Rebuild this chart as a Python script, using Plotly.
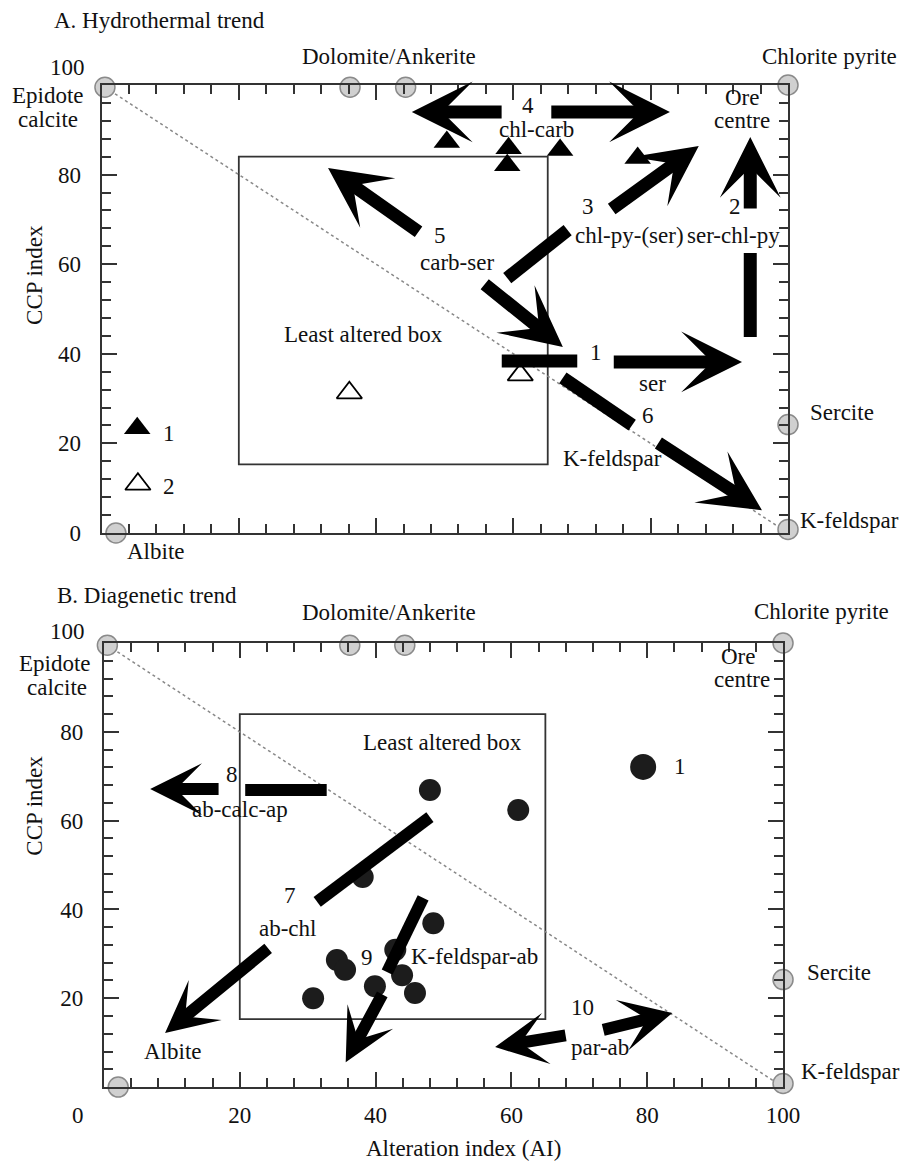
import plotly.graph_objects as go

FONT = "Liberation Serif"
FS = 23

# ---------------- common end-members ----------------
em_x = [0.5, 36.2, 44.3, 100.0, 100.0, 100.0, 2.1]
em_y = [99.5, 99.5, 99.5, 100.0, 24.2, 0.8, 0.0]
trend_x = [0.5, 100.0]
trend_y = [99.5, 0.0]
box_x = [20, 65]
box_y = [15.3, 84]

# ---------------- panel A (hydrothermal) ----------------
a_filled_x = [50.3, 59.3, 59.1, 66.8, 78.1]
a_filled_y = [87.3, 85.9, 82.1, 85.5, 83.7]
a_open_x = [36.1, 61.0]
a_open_y = [31.3, 35.3]
a_leg_filled = (5.2, 23.4)
a_leg_open = (5.3, 10.9)

# arrows: (x_start, y_start, x_tip, y_tip)
a_arrows = [
    (58.5, 94.0, 45.2, 94.0),
    (65.3, 94.0, 82.8, 94.0),
    (74.1, 72.1, 87.0, 86.4),
    (94.5, 72.1, 94.5, 88.4),
    (46.4, 67.0, 33.0, 81.5),
    (55.6, 55.8, 67.2, 41.5),
    (74.4, 38.2, 93.3, 38.2),
    (80.9, 20.3, 96.2, 5.1),
]
a_segments = [
    (59.1, 56.9, 67.9, 67.6),
    (94.5, 43.75, 94.5, 62.5),
    (58.3, 38.4, 69.3, 38.4),
    (67.2, 34.6, 77.3, 24.1),
]
a_labels = [
    ("A. Hydrothermal trend", -7.2, 114.5, "left"),
    ("Dolomite/Ankerite", 41.9, 106.3, "center"),
    ("Chlorite pyrite", 106.1, 106.3, "center"),
    ("Epidote", -7.8, 97.6, "center"),
    ("calcite", -7.8, 92.4, "center"),
    ("Ore", 93.3, 97.2, "center"),
    ("centre", 93.3, 92.0, "center"),
    ("4", 62.1, 95.5, "center"),
    ("chl-carb", 63.4, 90.0, "center"),
    ("5", 49.3, 66.5, "center"),
    ("carb-ser", 51.8, 60.3, "center"),
    ("3", 70.9, 72.8, "center"),
    ("2", 92.3, 72.8, "center"),
    ("chl-py-(ser)", 76.9, 66.5, "center"),
    ("ser-chl-py", 92.1, 66.5, "center"),
    ("Least altered box", 38.1, 44.2, "center"),
    ("1", 72.0, 40.2, "center"),
    ("ser", 80.3, 33.3, "center"),
    ("6", 79.6, 26.3, "center"),
    ("K-feldspar", 74.5, 16.7, "center"),
    ("Sercite", 107.9, 26.8, "center"),
    ("K-feldspar", 109.0, 2.9, "center"),
    ("Albite", 7.9, -4.2, "center"),
    ("1", 9.8, 22.3, "center"),
    ("2", 9.8, 10.3, "center"),
    ("100", -2.1, 104.0, "right"),
]
a_ytitle = ("CCP index", -9.7, 57.6)

# ---------------- panel B (diagenetic) ----------------
b_dots_x = [61.0, 48.0, 38.1, 48.5, 42.9, 34.3, 35.5, 43.9, 39.9, 45.8, 30.8]
b_dots_y = [62.4, 66.9, 47.3, 36.9, 30.9, 28.6, 26.4, 25.2, 22.7, 21.2, 20.0]
b_big_dot = (79.4, 72.1)
b_arrows = [
    (17.1, 67.1, 6.8, 67.1),
    (24.4, 31.5, 9.0, 12.2),
    (41.1, 21.2, 35.6, 5.6),
    (68.2, 11.7, 57.6, 9.0),
    (73.3, 12.8, 83.7, 16.7),
]
b_segments = [
    (20.8, 66.9, 32.8, 66.9),
    (31.4, 41.7, 48.0, 60.8),
    (41.7, 25.9, 47.0, 42.6),
]
b_labels = [
    ("B. Diagenetic trend", -7.2, 110.8, "left"),
    ("Dolomite/Ankerite", 42.0, 106.8, "center"),
    ("Chlorite pyrite", 105.7, 107.0, "center"),
    ("Epidote", -7.2, 95.3, "center"),
    ("calcite", -6.9, 90.0, "center"),
    ("Ore", 93.4, 97.0, "center"),
    ("centre", 94.0, 91.8, "center"),
    ("Least altered box", 49.9, 77.7, "center"),
    ("1", 84.8, 72.1, "center"),
    ("8", 18.9, 70.3, "center"),
    ("ab-calc-ap", 20.0, 62.4, "center"),
    ("7", 27.4, 43.2, "center"),
    ("ab-chl", 27.0, 35.8, "center"),
    ("Albite", 10.2, 7.9, "center"),
    ("9", 38.7, 29.1, "center"),
    ("K-feldspar-ab", 54.6, 29.3, "center"),
    ("10", 70.5, 18.0, "center"),
    ("par-ab", 73.0, 9.0, "center"),
    ("Sercite", 108.2, 25.7, "center"),
    ("K-feldspar", 110.0, 3.4, "center"),
    ("100", -2.5, 102.5, "right"),
    ("0", -3.8, -6.3, "center"),
]
b_ytitle = ("CCP index", -10.2, 63.3)
b_xtitle = ("Alteration index (AI)", 52.9, -13.8)

tick_vals = [0, 20, 40, 60, 80, 100]
a_y_text = ["0", "20", "40", "60", "80", ""]
a_x_text = ["", "", "", "", "", ""]
b_y_text = ["", "20", "40", "60", "80", ""]
b_x_text = ["", "20", "40", "60", "80", "100"]

A_XDOM = [0.1123, 0.8717]
A_YDOM = [0.5417, 0.9269]
B_XDOM = [0.1150, 0.8662]
B_YDOM = [0.0653, 0.4471]

fig = go.Figure()
AX = "#333333"


def axis_common(domain, tickvals, ticktext, standoff):
    return dict(
        domain=domain, range=[0, 100], showgrid=False, zeroline=False,
        showline=True, linecolor=AX, linewidth=2, mirror="ticks",
        ticks="inside", ticklen=15, tickwidth=2, tickcolor=AX,
        tickvals=tickvals, ticktext=ticktext,
        tickfont=dict(family=FONT, size=FS, color="#111"),
        ticklabelstandoff=standoff,
        minor=dict(ticks="inside", ticklen=9, tickwidth=1.5, tickcolor=AX,
                   tick0=0, dtick=4),
        fixedrange=True, automargin=False,
    )


fig.update_layout(
    width=904, height=1163,
    margin=dict(l=0, r=0, t=0, b=0, autoexpand=False),
    paper_bgcolor="white", plot_bgcolor="white",
    showlegend=False,
    font=dict(family=FONT, size=FS, color="#111"),
    xaxis=axis_common(A_XDOM, tick_vals, a_x_text, 10),
    yaxis=axis_common(A_YDOM, tick_vals, a_y_text, 14),
    xaxis2=axis_common(B_XDOM, tick_vals, b_x_text, 6),
    yaxis2=axis_common(B_YDOM, tick_vals, b_y_text, 14),
)
fig.layout.yaxis.anchor = "x"
fig.layout.xaxis.anchor = "y"
fig.layout.yaxis2.anchor = "x2"
fig.layout.xaxis2.anchor = "y2"


def to_paper(v, dom):
    # map a data value (axis range 0..100) to paper coordinates of the panel
    return dom[0] + v / 100.0 * (dom[1] - dom[0])


def panel(xr, yr, xdom, ydom, arrows, segments, labels, ytitle, width, hsize):
    fig.add_trace(go.Scatter(x=trend_x, y=trend_y, mode="lines", xaxis=xr, yaxis=yr,
                             line=dict(color="#888888", width=1.5, dash="dot"),
                             hoverinfo="skip"))
    fig.add_shape(type="rect", xref=xr, yref=yr, x0=box_x[0], x1=box_x[1],
                  y0=box_y[0], y1=box_y[1], line=dict(color=AX, width=1.8), layer="below")
    for (x0, y0, x1, y1) in segments:
        fig.add_shape(type="line", xref=xr, yref=yr, x0=x0, y0=y0, x1=x1, y1=y1,
                      line=dict(color="black", width=width), layer="above")
    for (x0, y0, x1, y1) in arrows:
        fig.add_annotation(xref=xr, yref=yr, axref=xr, ayref=yr, x=x1, y=y1,
                           ax=x0, ay=y0, text="", showarrow=True, arrowhead=3,
                           arrowsize=hsize, arrowwidth=width, arrowcolor="black",
                           standoff=0, startstandoff=0)
    for (t, x, y, anc) in labels:
        fig.add_annotation(xref="paper", yref="paper", x=to_paper(x, xdom),
                           y=to_paper(y, ydom), text=t, showarrow=False,
                           xanchor=anc, yanchor="middle",
                           font=dict(family=FONT, size=FS, color="#111"))
    fig.add_annotation(xref="paper", yref="paper", x=to_paper(ytitle[1], xdom),
                       y=to_paper(ytitle[2], ydom), text=ytitle[0],
                       showarrow=False, textangle=-90, xanchor="center", yanchor="middle",
                       font=dict(family=FONT, size=FS, color="#111"))
    fig.add_trace(go.Scatter(x=em_x, y=em_y, mode="markers", xaxis=xr, yaxis=yr,
                             cliponaxis=False, hoverinfo="skip",
                             marker=dict(size=20, color="#d0d0d0",
                                         line=dict(color="#8a8a8a", width=1.5))))


panel("x", "y", A_XDOM, A_YDOM, a_arrows, a_segments, a_labels, a_ytitle, 13, 0.78)
panel("x2", "y2", B_XDOM, B_YDOM, b_arrows, b_segments, b_labels, b_ytitle, 12, 0.72)

# panel A triangles
fig.add_trace(go.Scatter(x=a_filled_x + [a_leg_filled[0]], y=a_filled_y + [a_leg_filled[1]],
                         mode="markers", xaxis="x", yaxis="y", hoverinfo="skip",
                         marker=dict(symbol="triangle-up", size=23, color="black")))
fig.add_trace(go.Scatter(x=a_open_x + [a_leg_open[0]], y=a_open_y + [a_leg_open[1]],
                         mode="markers", xaxis="x", yaxis="y", hoverinfo="skip",
                         marker=dict(symbol="triangle-up-open", size=22, color="black",
                                     line=dict(width=1.8, color="black"))))
# panel B dots
fig.add_trace(go.Scatter(x=b_dots_x, y=b_dots_y, mode="markers", xaxis="x2", yaxis="y2",
                         hoverinfo="skip", marker=dict(size=22, color="#1c1c1c")))
fig.add_trace(go.Scatter(x=[b_big_dot[0]], y=[b_big_dot[1]], mode="markers", xaxis="x2",
                         yaxis="y2", hoverinfo="skip", marker=dict(size=26, color="#1c1c1c")))
fig.add_annotation(xref="paper", yref="paper", x=to_paper(b_xtitle[1], B_XDOM),
                   y=to_paper(b_xtitle[2], B_YDOM), text=b_xtitle[0],
                   showarrow=False, xanchor="center", yanchor="middle",
                   font=dict(family=FONT, size=FS, color="#111"))

fig.write_html("out.html", config={"displayModeBar": False},
               post_script="document.body.style.margin='0px';"
                           "document.body.style.overflow='hidden';")
